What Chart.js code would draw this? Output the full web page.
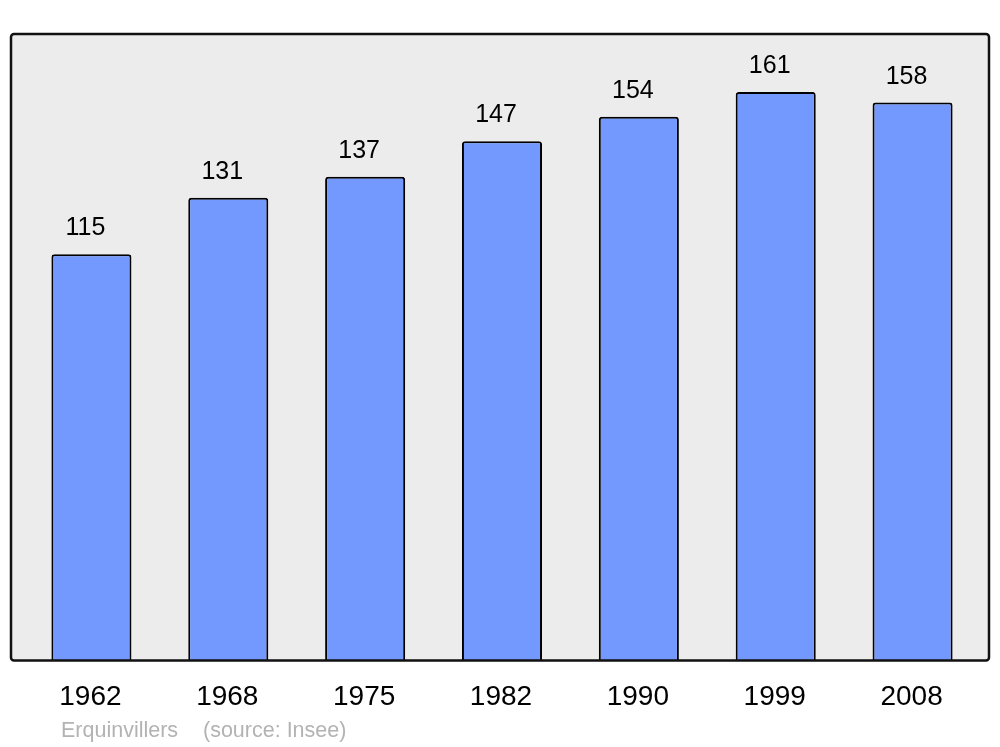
<!DOCTYPE html>
<html>
<head>
<meta charset="utf-8">
<script src="https://cdn.jsdelivr.net/npm/chart.js@4.4.1/dist/chart.umd.min.js"></script>
<style>
  html, body { margin: 0; padding: 0; background: #fff; }
  canvas { display: block; }
</style>
</head>
<body>
<canvas id="pop" width="1000" height="747"></canvas>
<script>
// Population data (Insee)
const years = ['1962', '1968', '1975', '1982', '1990', '1999', '2008'];
const population = [115, 131, 137, 147, 154, 161, 158];
const placeName = 'Erquinvillers';
const sourceText = '(source: Insee)';

const FONT = '"Liberation Sans", Arial, sans-serif';
const BAR_COLOR = '#7399ff';
const FRAME_FILL = '#ececec';
const FRAME_LINE = '#111111';

// grey frame behind the plot + black outline on top
function framePath(ctx, a) {
  ctx.beginPath();
  ctx.roundRect(a.left - 12, a.top, (a.right + 8) - (a.left - 12), a.bottom - a.top, 3);
}

const framePlugin = {
  id: 'frame',
  beforeDatasetsDraw(chart) {
    const { ctx, chartArea } = chart;
    ctx.save();
    framePath(ctx, chartArea);
    ctx.fillStyle = FRAME_FILL;
    ctx.fill();
    ctx.restore();
  },
  afterDatasetsDraw(chart) {
    const { ctx, chartArea } = chart;
    ctx.save();
    framePath(ctx, chartArea);
    ctx.lineWidth = 2.5;
    ctx.strokeStyle = FRAME_LINE;
    ctx.stroke();
    ctx.restore();
  },
};

// value labels above bars, footer text
const labelPlugin = {
  id: 'labels',
  afterDraw(chart) {
    const { ctx } = chart;
    const meta = chart.getDatasetMeta(0);
    ctx.save();
    ctx.font = '25px ' + FONT;
    ctx.fillStyle = '#000';
    ctx.textAlign = 'center';
    ctx.textBaseline = 'alphabetic';
    meta.data.forEach((bar, i) => {
      ctx.fillText(String(population[i]), bar.x - 6, bar.y - 19);
    });
    ctx.font = '21.5px ' + FONT;
    ctx.fillStyle = '#b3b3b3';
    ctx.textAlign = 'left';
    ctx.fillText(placeName, 61, 737);
    ctx.fillText(sourceText, 203, 737);
    ctx.restore();
  },
};

new Chart(document.getElementById('pop'), {
  type: 'bar',
  data: {
    labels: years,
    datasets: [{
      data: population,
      backgroundColor: BAR_COLOR,
      borderColor: '#000',
      borderWidth: 2,
      borderSkipped: 'bottom',
      borderRadius: { topLeft: 3, topRight: 3 },
      categoryPercentage: 1,
      barPercentage: 0.585,
    }],
  },
  options: {
    responsive: false,
    animation: false,
    events: [],
    layout: { padding: { left: 23, right: 19, top: 34, bottom: 13 } },
    plugins: {
      legend: { display: false },
      tooltip: { enabled: false },
    },
    scales: {
      x: {
        grid: { display: false, drawTicks: false },
        border: { display: false },
        ticks: { color: '#000', font: { size: 28, family: FONT }, padding: 20, labelOffset: -1 },
      },
      y: {
        display: false,
        min: 0,
        max: 177.4,
      },
    },
  },
  plugins: [framePlugin, labelPlugin],
});
</script>
</body>
</html>
